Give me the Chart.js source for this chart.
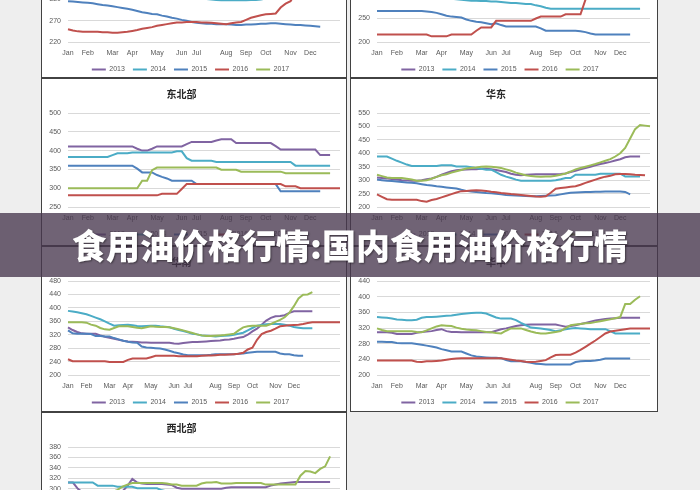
<!DOCTYPE html>
<html><head><meta charset="utf-8">
<script src="https://cdn.jsdelivr.net/npm/chart.js@4.4.1/dist/chart.umd.min.js"></script>
<style>
html,body{margin:0;padding:0;width:700px;height:490px;overflow:hidden;background:#eeeeee;}
#stage{position:relative;width:700px;height:490px;overflow:hidden;background:#eeeeee;}
.panel{position:absolute;background:#ffffff;border:1px solid #424242;box-sizing:border-box;}
canvas.c{position:absolute;}
#banner{position:absolute;left:0;top:213px;width:700px;height:64px;background:rgba(72,55,78,0.78);display:flex;align-items:center;justify-content:center;color:#ffffff;font-family:'Noto Sans CJK SC',sans-serif;font-weight:900;font-size:34px;line-height:64px;text-shadow:1px 1px 2px rgba(0,0,0,0.45);z-index:10;white-space:nowrap;}
</style></head>
<body><div id="stage"></div>
<script>
// ---- categories ----
const monthNames = ['Jan','Feb','Mar','Apr','May','Jun','Jul','Aug','Sep','Oct','Nov','Dec'];
const monthAt = [0,4,9,13,18,23,26,32,36,40,45,49];
const seriesNames = ['2013','2014','2015','2016','2017'];
const panelTitles = ['华北','西南','东北部','华东','华南','华中','西北部'];

// ---- top-left panel ----
const tl2013 = [405,405,404,404,403,402,400,398,396,394,392,390,388,386,384,382,380,378,377,376,375,374,373,372,372,371,370,370,369,368,368,368,367,367,366,366,366,367,368,370,372,374,376,378,380,382,384,385,386,386,386,386,386,386];
const tl2014 = [365,365,364,362,360,358,356,355,354,352,350,348,346,344,342,340,338,336,334,332,330,328,326,325,324,323,322,322,321,320,319,318,318,318,318,318,318,319,319,320,322,325,329,333,337,340,342,343,344,345,346,346,347,347];
const tl2015 = [316,315,314,313,312,311,309,307,306,304,302,300,298,296,293,290,288,286,285,282,280,277,275,272,270,267,265,264,263,263,262,262,262,261,260,260,261,261,262,263,263,264,264,263,262,261,260,260,259,258,257,256];
const tl2016 = [250,247,245,244,244,244,244,243,243,242,242,243,244,246,248,251,253,255,258,260,262,264,266,266,267,267,267,266,266,265,264,263,262,264,266,267,272,277,280,283,285,286,287,301,310,316,335,352,362,368,372,376,380,384,386,388];
const tl2017 = [338,338,337,336,336,335,335,335,334,334,334,335,336,337,338,340,342,343,344,345,346,346,345,344,343,342,341,340,340,340,340,341,342,343,344,346,348,350,352,354,356,358,360,362,365,368,372,376,380,384,388,392,396,400];

// ---- top-right panel ----
const tr2013 = [335,335,334,333,332,331,330,330,329,328,327,326,325,324,322,320,318,316,314,312,310,308,306,305,304,303,302,302,301,300,300,300,300,300,301,302,303,304,305,306,308,310,312,314,316,318,320,322,324,326,328,329,330,330];
const tr2014 = [305,305,304,303,302,301,300,300,299,298,297,296,295,294,293,292,291,290,289,288,288,287,287,286,286,285,284,283,283,282,281,281,278,276,273,271,271,271,271,271,271,271,271,271,271,271,271,271,271,271,271,271,271,271];
const tr2015 = [266,266,266,266,266,266,266,266,266,266,265,264,262,259,256,254,253,252,248,245,243,242,240,238,240,236,233,233,233,233,233,233,233,229,224,224,224,224,224,224,224,223,221,218,216,216,216,216,216,216,216,216];
const tr2016 = [216,216,216,216,216,216,216,216,216,216,216,212,212,212,212,216,216,216,216,216,224,231,231,231,245,245,245,245,245,245,245,245,250,254,254,254,254,254,259,259,259,259,290,310,320,322,325,328,330,332,335,336,338,340,340,340];
const tr2017 = [300,300,300,301,301,302,302,303,303,304,304,305,305,306,306,307,307,308,308,309,310,310,311,311,312,312,313,314,315,316,317,318,319,320,321,322,323,324,325,326,327,328,329,330,332,334,336,338,340,342,344,346,348,350];

// ---- 东北部 ----
const ne2013 = [411,411,411,411,411,411,411,411,411,411,411,411,411,411,405,400,400,405,411,411,411,411,411,411,417,423,423,423,423,423,427,430,430,430,420,420,420,420,420,420,420,420,412,403,403,403,403,403,403,403,403,388,388,388];
const ne2014 = [383,383,383,383,383,383,383,383,383,388,393,393,393,395,395,395,395,395,395,395,395,395,398,398,380,373,373,373,373,373,370,370,370,370,370,370,370,370,370,370,370,370,370,370,370,370,360,360,360,360,360,360,360,360];
const ne2015 = [360,360,360,360,360,360,360,360,360,360,360,360,360,360,352,342,342,342,335,330,326,320,320,320,320,320,311,311,311,311,311,311,311,311,311,311,311,311,311,311,311,311,311,292,292,292,292,292,292,292,292,292];
const ne2016 = [281,281,281,281,281,281,281,281,281,281,281,281,281,281,281,281,281,281,281,285,285,285,285,298,311,311,311,311,311,311,311,311,311,311,311,311,311,311,311,311,311,311,311,311,305,305,305,300,300,300,300,300,300,300,300,300];
const ne2017 = [300,300,300,300,300,300,300,300,300,300,300,300,300,300,300,320,320,348,355,355,355,355,355,355,355,355,355,355,355,355,355,349,349,349,349,344,344,344,344,344,344,344,344,344,340,340,340,340,340,340,340,340,340,340];

// ---- 华东 ----
const ec2013 = [310,308,306,304,302,300,299,298,298,300,303,306,312,320,327,333,337,339,340,341,341,342,342,341,338,334,330,324,320,318,320,321,322,322,322,322,322,323,325,330,335,340,345,350,355,360,364,368,373,378,385,388,388,388];
const ec2014 = [388,388,388,380,372,365,358,353,353,353,353,353,353,355,355,355,351,351,351,348,345,342,339,339,330,320,313,308,302,298,298,298,298,298,298,298,300,303,308,308,320,320,320,320,320,324,324,324,324,324,314,314,314,314];
const ec2015 = [302,300,298,297,295,293,291,290,288,285,282,280,277,275,273,271,269,264,260,258,256,254,252,251,249,247,245,244,243,242,241,240,240,241,242,243,244,247,250,253,254,255,256,256,257,257,258,258,258,258,256,247];
const ec2016 = [247,238,229,227,227,227,227,227,227,222,220,226,230,236,242,248,254,259,260,261,262,261,260,257,255,252,250,248,247,245,243,241,239,238,240,253,268,271,273,275,277,283,290,296,302,308,313,316,322,323,323,322,320,319,318];
const ec2017 = [320,315,310,308,308,308,305,302,298,298,300,305,312,318,322,328,333,338,343,345,347,350,351,350,348,345,340,335,328,323,318,315,314,313,314,314,316,320,325,332,340,345,350,355,360,366,372,378,388,400,420,455,490,505,503,501];

// ---- middle-left ----
const ml2013 = [342,334,328,324,323,323,323,318,314,311,308,305,302,300,299,298,297,297,296,296,296,296,296,294,293,295,297,298,298,299,300,301,302,303,305,306,308,311,313,320,330,338,350,362,370,375,376,378,385,390,390,390,390,390];
const ml2014 = [391,389,387,384,381,376,371,366,360,353,347,348,349,350,348,346,345,346,347,347,345,344,342,338,334,331,327,323,321,318,317,316,315,316,317,318,320,323,326,333,340,347,349,351,352,352,352,350,347,343,341,339,339,339];
const ml2015 = [333,324,323,323,323,322,316,316,315,315,310,306,302,299,297,296,285,282,281,280,279,276,272,268,265,261,259,259,259,259,259,260,262,262,262,262,262,263,264,266,268,269,269,269,269,269,264,262,262,259,257,257];
const ml2016 = [247,241,241,241,241,241,241,241,241,239,239,239,239,245,249,249,249,249,253,257,257,257,257,257,256,256,256,256,256,257,258,258,259,260,260,261,262,263,266,276,281,305,322,328,332,338,345,347,348,349,350,352,355,357,357,357,357,357,357,357];
const ml2017 = [357,357,357,357,356,350,347,340,336,335,340,345,345,345,343,341,339,342,345,344,343,343,342,339,336,333,329,325,321,318,316,316,317,318,319,321,323,333,342,345,347,347,347,347,352,358,364,372,385,405,428,439,440,447];

// ---- middle-right ----
const mr2013 = [309,309,309,308,305,305,305,305,308,310,311,312,315,317,312,310,310,309,309,309,309,309,309,309,313,317,319,322,325,327,328,329,329,329,329,329,329,326,323,325,327,330,333,336,339,341,343,344,345,346,346,346,346,346];
const mr2014 = [348,347,346,344,342,341,340,340,341,346,348,348,349,350,351,352,354,356,357,358,359,359,357,352,347,344,344,344,340,333,327,321,320,319,317,315,312,314,317,319,320,319,318,317,317,317,317,312,306,306,306,306,306,306];
const mr2015 = [285,285,284,284,282,281,281,281,279,277,275,273,270,266,263,260,260,260,255,250,247,246,245,244,244,243,238,235,235,235,233,231,229,228,227,227,227,227,227,227,233,235,236,236,237,239,242,242,242,242,242,242];
const mr2016 = [237,237,237,237,237,237,237,237,234,233,235,235,236,237,239,241,242,243,243,243,243,243,243,243,243,243,241,239,237,236,234,233,234,236,238,245,251,252,252,252,257,264,272,280,288,297,306,311,313,315,317,319,319,319,319,319];
const mr2017 = [319,315,312,312,312,312,312,312,310,309,314,319,324,327,326,325,321,318,316,315,314,312,310,309,307,306,313,319,319,319,315,311,308,306,306,308,310,312,320,327,329,330,332,333,335,337,340,342,345,348,381,381,392,401];

// ---- 西北部 ----
const nw2013 = [312,312,300,293,292,292,292,292,292,292,293,295,305,319,312,310,309,309,309,309,308,307,302,300,300,300,300,300,300,300,300,300,302,303,303,303,303,303,303,303,303,306,308,310,311,312,313,313,313,313,313,313,313,313];
const nw2014 = [312,312,312,312,312,312,306,306,306,306,304,304,304,304,301,301,301,301,301,297,295,293,292,291,290,290,290,289,289,289,288,288,288,288,288,288,288,288,288,288,288,288,289,289,290,290,290,290,290,290,290,290,290,290];
const nw2015 = [286,286,285,285,284,284,283,282,281,280,279,278,277,276,275,274,273,272,271,270,269,268,267,266,265,264,263,263,262,262,262,262,262,262,262,262,262,262,262,262,262,262,263,263,263,263,263,263,263,263,263,263];
const nw2016 = [262,262,262,262,262,262,262,262,262,262,262,262,262,262,262,262,263,264,265,266,268,268,268,268,268,268,268,268,268,268,270,270,270,272,272,272,274,276,278,280,282,284,286,288,290,292,293,294,294,294,294,294,294,294,294,294];
const nw2017 = [292,292,292,292,292,292,292,292,292,294,298,304,308,311,311,311,311,311,311,311,310,308,308,306,306,306,306,310,312,312,313,310,310,310,311,311,311,311,311,311,308,308,308,308,308,308,308,325,334,333,330,338,343,362];

// ---- styles / layout ----
const seriesColors = ['#8064A2','#4BACC6','#4F81BD','#C0504D','#9BBB59'];
const weekLabels = [];
for (let i = 0; i < 60; i++) weekLabels.push('');
monthAt.forEach((idx, k) => { weekLabels[idx] = monthNames[k]; });

const panels = [
  {left:41, top:-87, w:306, h:165, n:56, col:'L', title:panelTitles[0], min:220, max:441, step:50, data:[tl2013,tl2014,tl2015,tl2016,tl2017]},
  {left:350, top:-87, w:308, h:165, n:56, col:'R', title:panelTitles[1], min:200, max:400, step:50, data:[tr2013,tr2014,tr2015,tr2016,tr2017]},
  {left:41, top:78, w:306, h:168, n:56, col:'L', title:panelTitles[2], min:250, max:500, step:50, data:[ne2013,ne2014,ne2015,ne2016,ne2017]},
  {left:350, top:78, w:308, h:168, n:56, col:'R', title:panelTitles[3], min:200, max:550, step:50, data:[ec2013,ec2014,ec2015,ec2016,ec2017]},
  {left:41, top:246, w:306, h:166, n:60, col:'L', title:panelTitles[4], min:200, max:480, step:40, data:[ml2013,ml2014,ml2015,ml2016,ml2017]},
  {left:350, top:246, w:308, h:166, n:56, col:'R', title:panelTitles[5], min:200, max:440, step:40, data:[mr2013,mr2014,mr2015,mr2016,mr2017]},
  {left:41, top:412, w:306, h:170, n:56, col:'L', title:panelTitles[6], min:200, max:380, step:20, data:[nw2013,nw2014,nw2015,nw2016,nw2017]}
];

Chart.defaults.font.family = "'Liberation Sans','Noto Sans CJK SC',sans-serif";
const stage = document.getElementById('stage');

panels.forEach(p => {
  const d = document.createElement('div');
  d.className = 'panel';
  d.style.left = p.left + 'px'; d.style.top = p.top + 'px';
  d.style.width = p.w + 'px'; d.style.height = p.h + 'px';
  stage.appendChild(d);
});

const titleShift = {
  id: 'titleShift',
  afterLayout(chart, args, opts) {
    const t = chart.titleBlock;
    if (t) { t.left += opts.dx; t.right += opts.dx; }
  }
};

panels.forEach(p => {
  const cv = document.createElement('canvas');
  cv.className = 'c';
  cv.width = p.w; cv.height = 170;
  cv.style.left = p.left + 'px'; cv.style.top = p.top + 'px';
  cv.style.width = p.w + 'px'; cv.style.height = '170px';
  stage.appendChild(cv);
  const plotRight = p.col === 'L' ? 299 : 300;
  new Chart(cv, {
    type: 'line',
    plugins: [titleShift],
    data: {
      labels: weekLabels.slice(0, p.n),
      datasets: p.data.map((arr, i) => ({
        label: seriesNames[i], data: arr,
        borderColor: seriesColors[i], backgroundColor: seriesColors[i],
        borderWidth: 2, pointRadius: 0, pointStyle: 'line', tension: 0, fill: false,
        order: 4 - i
      }))
    },
    options: {
      responsive: false, animation: false, devicePixelRatio: 1,
      layout: { padding: { left: 0, right: p.w - plotRight, top: 0, bottom: 0 } },
      plugins: {
        titleShift: { dx: p.col === 'L' ? -9 : -4 },
        title: { display: true, text: p.title, color: '#262626',
                 font: { size: 10, weight: 'bold', family: "'Noto Sans CJK SC',sans-serif" },
                 padding: { top: 10, bottom: 13 } },
        legend: { position: 'bottom',
                  labels: { usePointStyle: true, pointStyle: 'line', pointStyleWidth: 14, boxHeight: 7,
                            padding: 8, color: '#595959', font: { size: 7 },
                            sort: (a, b) => a.datasetIndex - b.datasetIndex } },
        tooltip: { enabled: false }
      },
      scales: {
        x: { grid: { display: false, drawTicks: false }, border: { display: false },
             ticks: { autoSkip: false, maxRotation: 0, minRotation: 0, padding: 7, color: '#595959', font: { size: 7 } },
             afterFit: s => { s.height = 16; } },
        y: { min: p.min, max: p.max,
             grid: { color: '#d9d9d9', drawTicks: false, lineWidth: 1 }, border: { display: false },
             ticks: { autoSkip: false, padding: 7, color: '#595959', font: { size: 7 } },
             afterBuildTicks: s => {
               const t = [];
               for (let v = p.min; v <= p.max; v += p.step) t.push({ value: v });
               s.ticks = t;
             },
             afterFit: s => { s.width = 27; } }
      }
    }
  });
});

const b = document.createElement('div');
b.id = 'banner';
b.textContent = '食用油价格行情:国内食用油价格行情';
stage.appendChild(b);
</script>
</body></html>
